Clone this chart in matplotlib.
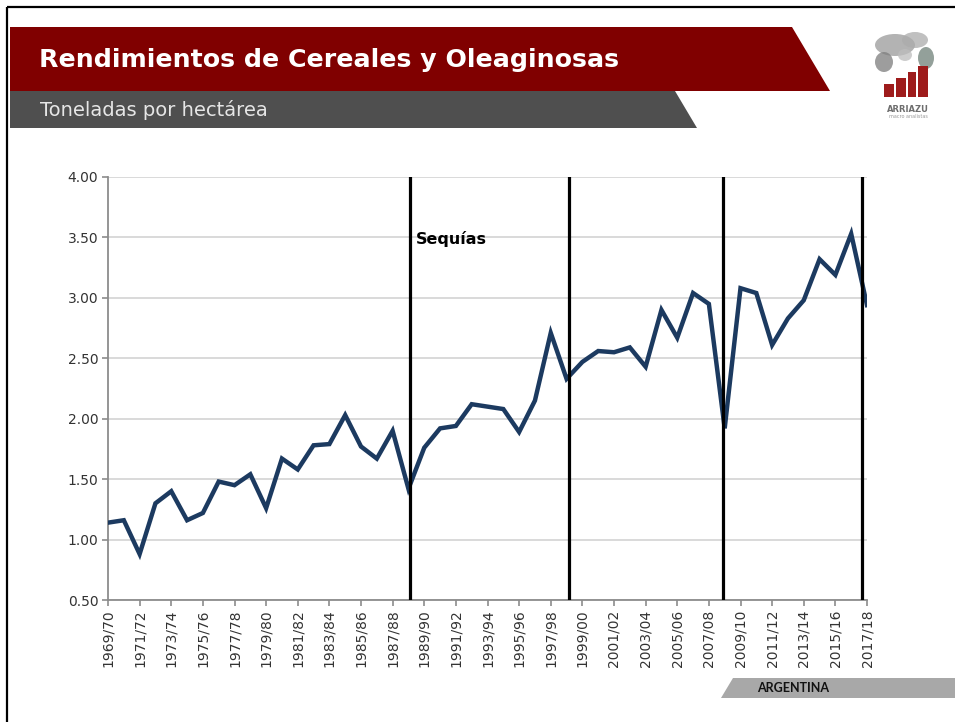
import matplotlib
matplotlib.use("Agg")
import matplotlib.pyplot as plt
from matplotlib.patches import Polygon, Rectangle, Ellipse
import numpy as np

# ---------------- data ----------------
seasons = [f"{y}/{str(y + 1)[-2:]}" for y in range(1969, 2018)]
yields = [1.14, 1.16, 0.88, 1.30, 1.40, 1.16, 1.22, 1.48, 1.45, 1.54,
          1.26, 1.67, 1.58, 1.78, 1.79, 2.03, 1.77, 1.67, 1.90, 1.42,
          1.76, 1.92, 1.94, 2.12, 2.10, 2.08, 1.89, 2.15, 2.71, 2.33,
          2.47, 2.56, 2.55, 2.59, 2.43, 2.90, 2.67, 3.04, 2.95, 1.92,
          3.08, 3.04, 2.61, 2.83, 2.98, 3.32, 3.19, 3.53, 2.94]
drought_positions = [19.1, 29.15, 38.9, 47.66]   # category index positions of drought markers
y_ticks = [0.5, 1.0, 1.5, 2.0, 2.5, 3.0, 3.5, 4.0]

title = "Rendimientos de Cereales y Oleaginosas"
subtitle = "Toneladas por hectárea"
drought_label = "Sequías"
country = "ARGENTINA"

FONT = "DejaVu Sans"
W, H = 955, 722

fig = plt.figure(figsize=(W / 100, H / 100), dpi=100)
fig.patch.set_facecolor("white")

# background / decoration axes in pixel coordinates
bg = fig.add_axes([0, 0, 1, 1], zorder=0)
bg.set_xlim(0, W)
bg.set_ylim(H, 0)
bg.axis("off")

# frame
bg.plot([7, 7], [7, H + 5], color="black", lw=1.6, solid_capstyle="butt")
bg.plot([7, W + 5], [7, 7], color="black", lw=1.6, solid_capstyle="butt")

# header banners
bg.add_patch(Polygon([(10, 27), (792, 27), (830, 91), (10, 91)], closed=True,
                     facecolor="#800000", edgecolor="none"))
bg.add_patch(Polygon([(10, 91), (675, 91), (697, 128), (10, 128)], closed=True,
                     facecolor="#4F4F4F", edgecolor="none"))
bg.text(39, 60, title, color="white", fontsize=18.2, fontweight="bold",
        family=FONT, va="center", ha="left")
bg.text(40, 110, subtitle, color="#E6E6E6", fontsize=14, family=FONT,
        va="center", ha="left")

# logo (approximation)
for (cx, cy, rx, ry, c) in [(895, 45, 20, 11, "#9A9A9A"), (915, 40, 13, 8, "#ABABAB"),
                             (884, 62, 9, 10, "#7D7D7D"), (926, 58, 8, 11, "#6F8078"),
                             (905, 55, 7, 6, "#BDBDBD")]:
    bg.add_patch(Ellipse((cx, cy), 2 * rx, 2 * ry, facecolor=c, edgecolor="none", alpha=0.75))
for (x0, y0, w, h) in [(884, 84, 10, 13), (896, 78, 10, 19), (908, 72, 8, 25), (918, 66, 10, 31)]:
    bg.add_patch(Rectangle((x0, y0), w, h, facecolor="#9E1B1B", edgecolor="none"))
bg.text(908, 109, "ARRIAZU", color="#6E6E6E", fontsize=6, fontweight="bold",
        family=FONT, ha="center", va="center")
bg.text(908, 117, "macro analistas", color="#9A9A9A", fontsize=3.5,
        family=FONT, ha="center", va="center")

# ARGENTINA banner
bg.add_patch(Polygon([(733, 678), (W, 678), (W, 698), (721, 698)], closed=True,
                     facecolor="#A8A8A8", edgecolor="none"))
bg.text(757, 688, country, color="#111111", fontsize=9, fontweight="bold",
        family="Lato", ha="left", va="center")

# ---------------- chart ----------------
left, right, top, bottom = 108, 867, 177, 600
ax = fig.add_axes([left / W, 1 - bottom / H, (right - left) / W, (bottom - top) / H], zorder=2)
ax.set_facecolor("none")

x = np.arange(len(seasons))
ax.plot(x, yields, color="#1C3A60", lw=3.2, solid_joinstyle="miter", zorder=3)

for xp in drought_positions:
    ax.axvline(xp, color="black", lw=2.3, zorder=4)

ax.text(19.5, 3.49, drought_label, fontsize=11.5, fontweight="bold", family=FONT,
        color="black", ha="left", va="center")

ax.set_xlim(0, len(seasons) - 1)
ax.set_ylim(0.5, 4.0)
ax.set_yticks(y_ticks)
ax.set_yticklabels([f"{v:.2f}" for v in y_ticks], family=FONT, fontsize=10, color="#333333")
ax.set_xticks(x[::2])
ax.set_xticklabels(seasons[::2], rotation=90, family=FONT, fontsize=10, color="#333333")

ax.yaxis.grid(True, color="#D9D9D9", lw=1.4)
ax.set_axisbelow(True)
for s in ["top", "right"]:
    ax.spines[s].set_visible(False)
for s in ["left", "bottom"]:
    ax.spines[s].set_color("#8C8C8C")
    ax.spines[s].set_linewidth(1.3)
ax.tick_params(axis="both", color="#8C8C8C", width=1.2, length=4, direction="out")
ax.tick_params(axis="x", pad=3)
ax.tick_params(axis="y", pad=3)

fig.savefig("out.png", dpi=100)
